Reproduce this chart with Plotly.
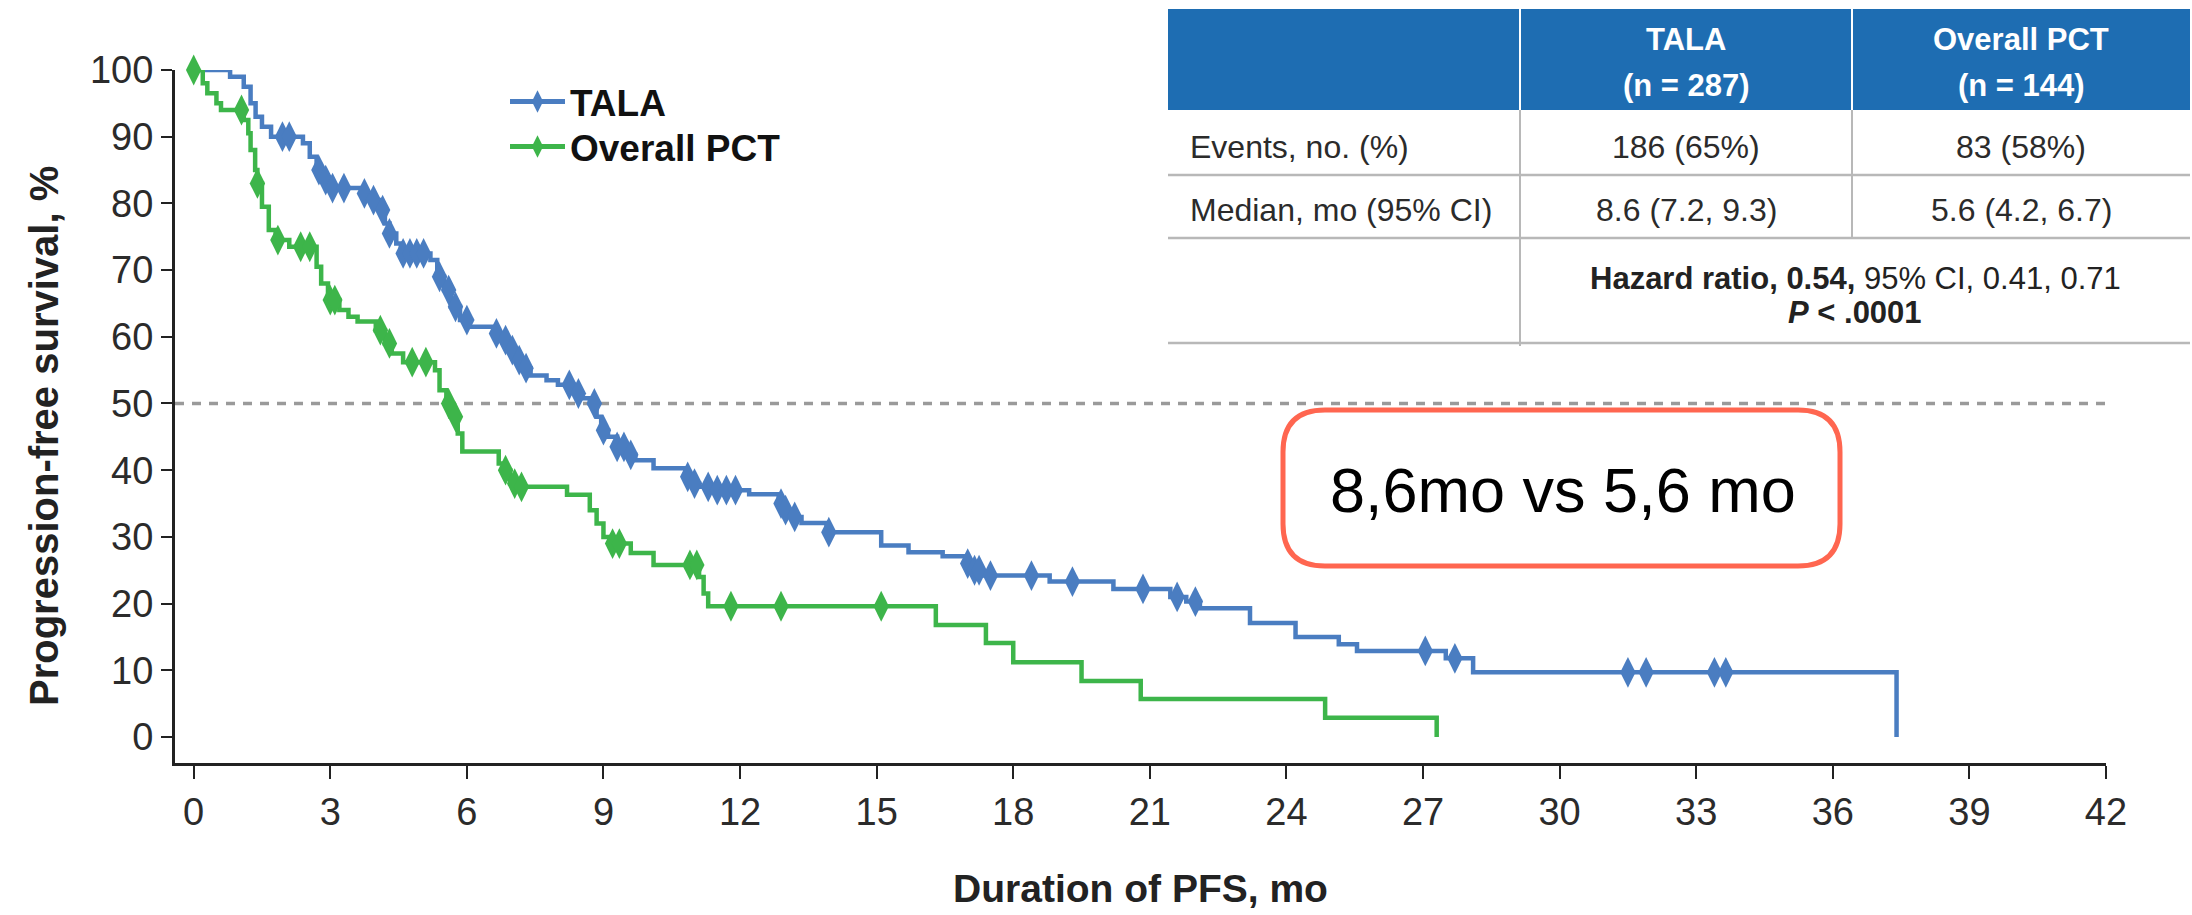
import plotly.graph_objects as go

# ---------------- data ----------------
tala_t = [0, 0.8, 1.1, 1.25, 1.36, 1.5, 1.7, 2.4, 2.55, 2.7, 2.85, 3.0, 3.7, 3.9, 4.1, 4.2, 4.3, 4.45, 4.55,
          5.2, 5.35, 5.5, 5.65, 5.85, 6.05, 6.6, 6.8, 6.95, 7.1, 7.25, 7.4, 7.75, 8.0, 8.35, 8.5, 8.7,
          8.85, 8.95, 9.1, 9.3, 9.5, 9.7, 10.1, 10.8, 10.95, 11.1, 11.5, 12.2, 12.85, 13.0, 13.2, 13.35, 13.9,
          15.1, 15.7, 16.45, 16.95, 17.1, 17.3, 18.8, 20.2, 21.45, 21.8, 22.1, 23.2, 24.2, 25.15, 25.55,
          27.5, 28.1, 37.4]
tala_s = [100, 99, 97.5, 95, 93, 91.5, 90, 89, 87, 85, 83.5, 82.3, 81.5, 80.5, 79, 77, 75.5, 74, 72.5,
          71.5, 69, 67, 64.5, 62.5, 61.5, 60.5, 59.5, 58, 56.5, 55.3, 54.2, 53.5, 52.8, 51.5, 50.8, 50,
          48, 46, 45, 43.5, 42.3, 41.5, 40.3, 39, 38, 37.5, 37, 36.4, 35, 34, 33, 32.1, 30.7,
          28.7, 27.7, 27.1, 26, 25, 24.2, 23.3, 22.2, 21, 20.3, 19.3, 17.1, 15, 13.9, 12.9,
          11.8, 9.7, 0]
tala_censor = [1.95, 2.1, 2.75, 2.9, 3.05, 3.3, 3.75, 3.95, 4.15, 4.3, 4.6, 4.75, 4.9, 5.05, 5.4, 5.6, 5.75,
               6.0, 6.65, 6.85, 7.0, 7.15, 7.3, 8.25, 8.45, 8.8, 9.0, 9.3, 9.45, 9.6, 10.85, 11.0, 11.3,
               11.5, 11.7, 11.9, 12.9, 13.0, 13.2, 13.95, 17.0, 17.15, 17.25, 17.5, 18.4, 19.3, 20.85,
               21.6, 22.0, 27.05, 27.7, 31.5, 31.9, 33.4, 33.65]

pct_t = [0, 0.2, 0.3, 0.5, 0.6, 1.1, 1.2, 1.25, 1.35, 1.4, 1.5, 1.65, 1.8, 2.1, 2.7, 2.8, 2.95, 3.2, 3.4,
         3.6, 4.0, 4.2, 4.35, 4.6, 5.3, 5.4, 5.55, 5.65, 5.8, 5.9, 6.7, 6.8, 6.95, 7.1, 8.2, 8.7, 8.85,
         9.0, 9.15, 9.6, 10.1, 11.1, 11.2, 11.3, 16.3, 17.4, 18.0, 19.5, 20.8, 24.85, 27.3]
pct_s = [100, 98, 96.5, 95, 94, 92.5, 90.5, 88, 85, 83, 79.5, 76, 74.5, 73.5, 70.5, 68, 65.5, 64, 63,
         62.3, 61, 59, 57.5, 56.2, 55, 52, 50, 48, 45.5, 42.8, 41, 40, 38, 37.5, 36.3, 34, 32,
         30, 29, 27.6, 25.8, 24, 21.5, 19.6, 16.8, 14.1, 11.2, 8.4, 5.7, 2.9, 0]
pct_censor = [0, 1.05, 1.4, 1.85, 2.35, 2.55, 3.0, 3.1, 4.1, 4.3, 4.8, 5.1, 5.6, 5.75, 6.85, 7.05, 7.2,
              9.2, 9.35, 10.9, 11.05, 11.8, 12.9, 15.1]

series_names = ["TALA", "Overall PCT"]
x_ticks = list(range(0, 43, 3))
y_ticks = list(range(0, 101, 10))
median_level = 50

table_cols = ["TALA", "Overall PCT"]
table_n = ["(n = 287)", "(n = 144)"]
row_labels = ["Events, no. (%)", "Median, mo (95% CI)"]
row_tala = ["186 (65%)", "8.6 (7.2, 9.3)"]
row_pct = ["83 (58%)", "5.6 (4.2, 6.7)"]
hr_text = "<b>Hazard ratio, 0.54,</b> 95% CI, 0.41, 0.71"
p_text = "<b><i>P</i> &lt; .0001</b>"
box_text = "8,6mo vs 5,6 mo"
x_title = "Duration of PFS, mo"
y_title = "Progression-free survival, %"

# ---------------- styling ----------------
BLUE = "#4A7DC1"
GREEN = "#3DB54A"
FONT = "Liberation Sans, Arial, sans-serif"
TXT = "#2b2b2b"


def km_at(times, surv, t):
    v = surv[0]
    for ti, si in zip(times, surv):
        if ti <= t:
            v = si
        else:
            break
    return v


fig = go.Figure()

for t, s, cens, col in [(tala_t, tala_s, tala_censor, BLUE), (pct_t, pct_s, pct_censor, GREEN)]:
    fig.add_trace(go.Scatter(x=t, y=s, mode="lines", line=dict(shape="hv", color=col, width=4.5),
                             showlegend=False, cliponaxis=False, hoverinfo="skip"))
    fig.add_trace(go.Scatter(x=cens, y=[km_at(t, s, c) for c in cens], mode="markers",
                             marker=dict(symbol="diamond-tall", size=22, color=col, line=dict(width=0)),
                             showlegend=False, cliponaxis=False, hoverinfo="skip"))

for name, col, lg in zip(series_names, [BLUE, GREEN], ["legend", "legend2"]):
    fig.add_trace(go.Scatter(x=[None], y=[None], mode="lines+markers", name=f"<b>{name}</b>",
                             legend=lg, line=dict(color=col, width=5),
                             marker=dict(symbol="diamond-tall", size=18, color=col)))

# ---------------- geometry helpers (pixel -> paper) ----------------
L, R, T, B = 175, 2106, 70, 763
W, H = R - L, B - T


def px(x):
    return (x - L) / W


def py(y):
    return (B - y) / H


shapes = []
shapes.append(dict(type="line", xref="paper", yref="y", x0=0, x1=1, y0=median_level, y1=median_level,
                   line=dict(color="#9a9a9a", width=3.5, dash="9px,8px"), layer="below"))

# table
TX0, TX1 = 1168, 2190
C1, C2 = 1520, 1852
shapes.append(dict(type="rect", xref="paper", yref="paper", x0=px(TX0), x1=px(TX1), y0=py(110), y1=py(9),
                   fillcolor="#1E6DB2", line=dict(width=0)))
for cx in (C1, C2):
    shapes.append(dict(type="line", xref="paper", yref="paper", x0=px(cx), x1=px(cx), y0=py(110), y1=py(9),
                       line=dict(color="white", width=2)))
GRAY = "#b8b8b8"
shapes.append(dict(type="line", xref="paper", yref="paper", x0=px(C1), x1=px(C1), y0=py(346), y1=py(110),
                   line=dict(color=GRAY, width=2)))
shapes.append(dict(type="line", xref="paper", yref="paper", x0=px(C2), x1=px(C2), y0=py(238), y1=py(110),
                   line=dict(color=GRAY, width=2)))
for yy in (175, 238, 343):
    shapes.append(dict(type="line", xref="paper", yref="paper", x0=px(TX0), x1=px(TX1), y0=py(yy), y1=py(yy),
                       line=dict(color=GRAY, width=2.5)))


def rrect(x0, y0, x1, y1, r):
    return (f"M {px(x0 + r)},{py(y0)} L {px(x1 - r)},{py(y0)} Q {px(x1)},{py(y0)} {px(x1)},{py(y0 + r)} "
            f"L {px(x1)},{py(y1 - r)} Q {px(x1)},{py(y1)} {px(x1 - r)},{py(y1)} "
            f"L {px(x0 + r)},{py(y1)} Q {px(x0)},{py(y1)} {px(x0)},{py(y1 - r)} "
            f"L {px(x0)},{py(y0 + r)} Q {px(x0)},{py(y0)} {px(x0 + r)},{py(y0)} Z")


shapes.append(dict(type="path", xref="paper", yref="paper", path=rrect(1283, 410, 1840, 566, 42),
                   line=dict(color="#FF6650", width=5), fillcolor="white"))

ann = []


def add_text(text, x, y, size, color=TXT, xanchor="center", angle=0):
    ann.append(dict(text=text, x=px(x), y=py(y), xref="paper", yref="paper", showarrow=False,
                    xanchor=xanchor, yanchor="middle", textangle=angle,
                    font=dict(family=FONT, size=size, color=color)))


col_centers = [(C1 + C2) / 2, (C2 + TX1) / 2]
for cx, head, n in zip(col_centers, table_cols, table_n):
    add_text(f"<b>{head}</b>", cx, 40, 31, "white")
    add_text(f"<b>{n}</b>", cx, 85, 31, "white")
for i, yy in enumerate([147, 210]):
    add_text(row_labels[i], 1188, yy, 32, xanchor="left")
    add_text(row_tala[i], col_centers[0], yy, 32)
    add_text(row_pct[i], col_centers[1], yy, 32)
add_text(hr_text, (C1 + TX1) / 2, 278, 31, "#222")
add_text(p_text, (C1 + TX1) / 2, 312, 31, "#222")
add_text(box_text, 1563, 490, 63, "black")
add_text(f"<b>{y_title}</b>", 44, 436, 40, "#222", angle=-90)

leg_common = dict(xanchor="left", yanchor="middle", bgcolor="rgba(0,0,0,0)",
                  font=dict(family=FONT, size=37, color="#111"), itemwidth=55)

fig.update_layout(
    width=2192, height=915,
    margin=dict(l=L, r=2192 - R, t=T, b=915 - B, autoexpand=False),
    paper_bgcolor="white", plot_bgcolor="white",
    font=dict(family=FONT, color=TXT),
    shapes=shapes, annotations=ann,
    showlegend=True,
    legend=dict(x=px(505), y=py(102), **leg_common),
    legend2=dict(x=px(505), y=py(147), **leg_common),
    xaxis=dict(range=[-0.41, 42], tickvals=x_ticks, ticktext=[str(v) for v in x_ticks],
               showgrid=False, zeroline=False, showline=True, linewidth=3, linecolor="#222",
               ticks="outside", ticklen=13, tickwidth=2, tickcolor="#222",
               tickfont=dict(family=FONT, size=38, color=TXT),
               title=dict(text=f"<b>{x_title}</b>", font=dict(family=FONT, size=39, color="#222"),
                          standoff=44)),
    yaxis=dict(range=[-3.9, 100], tickvals=y_ticks, ticktext=[str(v) for v in y_ticks],
               showgrid=False, zeroline=False, showline=True, linewidth=3, linecolor="#222",
               ticks="outside", ticklen=11, tickwidth=2, tickcolor="#222",
               tickfont=dict(family=FONT, size=38, color=TXT)),
)

fig.write_html("out.html", config={"displayModeBar": False},
               post_script="document.body.style.margin='0';document.body.style.overflow='hidden';")
